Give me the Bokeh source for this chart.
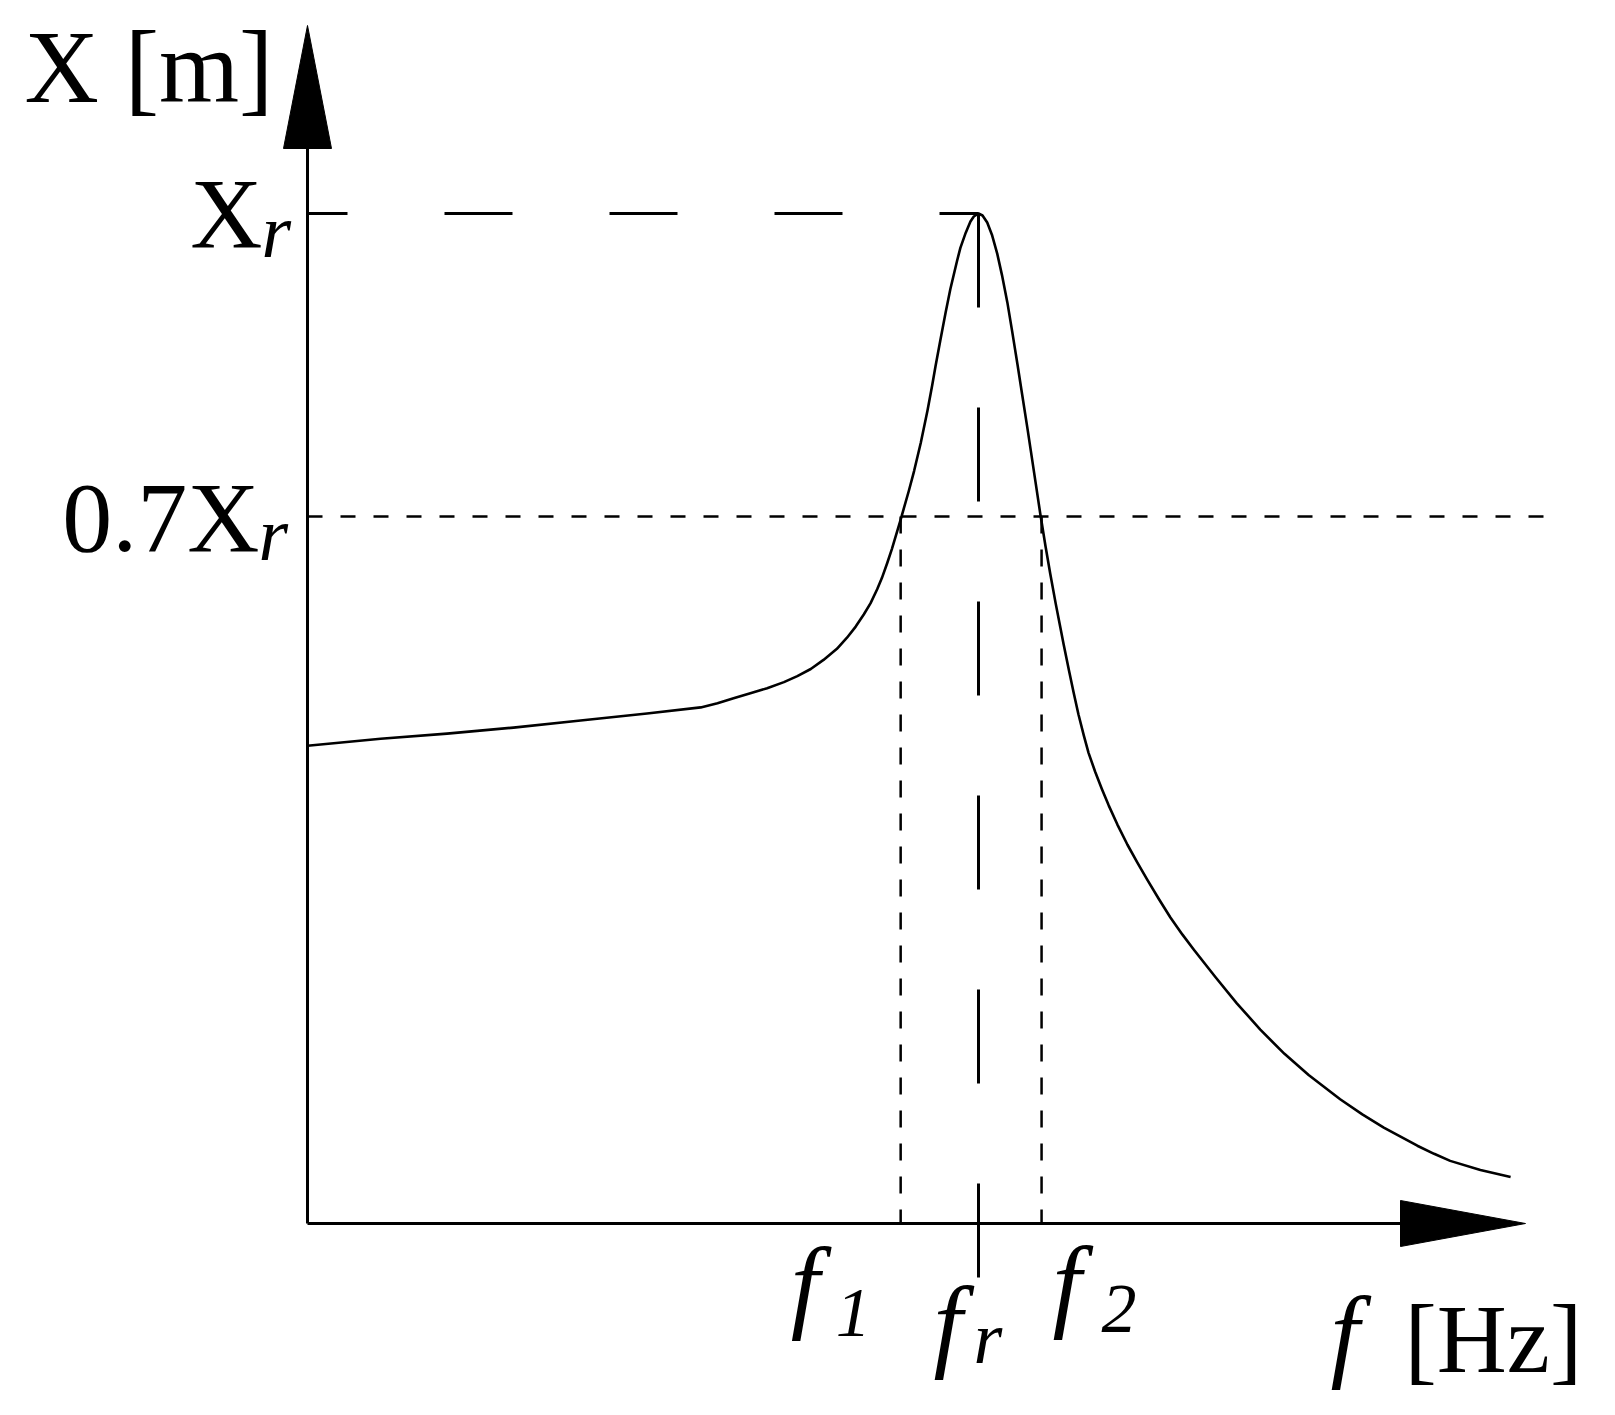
from bokeh.plotting import figure
from bokeh.models import ColumnDataSource, Range1d
from bokeh.core.properties import value
from bokeh.embed import file_html
from bokeh.resources import INLINE

# ---------------- data (normalised: f / f_r , X / X_r) ----------------
freq = [0.000, 0.109, 0.208, 0.307, 0.407, 0.506, 0.586, 0.611, 0.635, 0.660,
        0.685, 0.710, 0.730, 0.750, 0.769, 0.789, 0.804, 0.817, 0.829, 0.839,
        0.849, 0.856, 0.864, 0.871, 0.884, 0.896, 0.904, 0.914, 0.924, 0.931,
        0.936, 0.943, 0.951, 0.958, 0.968, 0.973, 0.981, 0.988, 0.993, 1.000,
        1.006, 1.013, 1.020, 1.028, 1.035, 1.043, 1.050, 1.058, 1.065, 1.073,
        1.078, 1.085, 1.092, 1.100, 1.107, 1.115, 1.122, 1.127, 1.135, 1.142,
        1.149, 1.157, 1.164, 1.174, 1.184, 1.194, 1.207, 1.222, 1.237, 1.251,
        1.269, 1.286, 1.304, 1.321, 1.353, 1.385, 1.420, 1.456, 1.492, 1.539,
        1.572, 1.604, 1.629, 1.654, 1.679, 1.703, 1.748, 1.793]
amplitude = [0.473, 0.480, 0.485, 0.491, 0.498, 0.505, 0.511, 0.515, 0.520, 0.525,
             0.530, 0.536, 0.542, 0.549, 0.558, 0.569, 0.580, 0.591, 0.603, 0.614,
             0.628, 0.639, 0.654, 0.668, 0.697, 0.725, 0.745, 0.773, 0.805, 0.830,
             0.849, 0.874, 0.902, 0.925, 0.953, 0.966, 0.981, 0.992, 0.997, 1.000,
             0.998, 0.991, 0.979, 0.960, 0.939, 0.912, 0.884, 0.851, 0.821, 0.787,
             0.765, 0.734, 0.703, 0.670, 0.643, 0.614, 0.590, 0.573, 0.547, 0.525,
             0.504, 0.483, 0.466, 0.447, 0.430, 0.414, 0.395, 0.375, 0.357, 0.341,
             0.321, 0.303, 0.286, 0.271, 0.244, 0.218, 0.192, 0.168, 0.147, 0.123,
             0.108, 0.095, 0.086, 0.077, 0.069, 0.062, 0.053, 0.046]

f_marks = [0.884, 1.000, 1.094]          # f1, fr, f2
f_names = ["1", "r", "2"]
level_peak = 1.0                          # X_r
level_half = 0.7                          # 0.7 X_r
half_line_end = 1.846                     # end of the 0.7 X_r guide line

# ---------------- layout ----------------
W, H = 1599, 1399
ORX, ORY = 307, 1223        # origin in pixels
PXX, PXY = 671.0, 1010.0    # pixels per data unit
BASE = 0.35                 # baseline correction (fraction of font size)

def dx(px):
    return px / PXX

def dy(px):
    return px / PXY

p = figure(width=W, height=H, output_backend="svg", toolbar_location=None,
           x_range=Range1d(-ORX / PXX, (W - ORX) / PXX),
           y_range=Range1d(-(H - ORY) / PXY, ORY / PXY),
           min_border=0, min_border_left=0, min_border_right=0,
           min_border_top=0, min_border_bottom=0)
p.axis.visible = False
p.grid.visible = False
p.outline_line_color = None
p.background_fill_color = "white"
p.border_fill_color = "white"

BLACK = "black"

# axes
y_top = dy(ORY - 148)
x_right = dx(1400 - ORX)
p.line([0, 0], [0, y_top], line_color=BLACK, line_width=3)
p.line([0, x_right], [0, 0], line_color=BLACK, line_width=3)
# arrow heads
p.patch([-dx(24), dx(24), 0], [y_top, y_top, y_top + dy(123)], color=BLACK, line_width=1)
p.patch([x_right, x_right, x_right + dx(125)], [dy(23), -dy(23), 0], color=BLACK, line_width=1)

# guide lines
p.line([0, f_marks[1]], [level_peak, level_peak], line_color=BLACK, line_width=3,
       line_dash="68 97", line_dash_offset=28)
p.line([0, half_line_end], [level_half, level_half], line_color=BLACK, line_width=2.5,
       line_dash="15 18")
for fm in (f_marks[0], f_marks[2]):
    p.line([fm, fm], [level_half, 0], line_color=BLACK, line_width=2.5, line_dash="17 16")
p.line([f_marks[1], f_marks[1]], [level_peak, -dy(55)], line_color=BLACK, line_width=3,
       line_dash="94 100")

# response curve
p.line(freq, amplitude, line_color=BLACK, line_width=2.6, line_join="round")

# ---------------- texts ----------------
texts, xs, ys, sizes, styles, aligns = [], [], [], [], [], []

def lab(t, x, y, ox, oy, size, style="normal", align="left", corr=True):
    # ox: pixels to the right, oy: pixels down (baseline) from the anchor
    if corr:
        oy = oy - BASE * size
    texts.append(t)
    xs.append(x + dx(ox))
    ys.append(y - dy(oy))
    sizes.append(f"{size}px")
    styles.append(style)
    aligns.append(align)

# y-axis title and level labels
lab("X [m]", 0, level_peak, -283, -110, 103)
lab("X", 0, level_peak, -45, 35, 100, align="right")
lab("r", 0, level_peak, -46, 44, 76, style="italic")
lab("0.7X", 0, level_half, -48, 36, 100, align="right")
lab("r", 0, level_half, -49, 44, 76, style="italic")

# frequency labels (f with subscript)
FS = 104
f_dx = [-110, -45, 11]
f_y = [60, 99, 59]             # anchor of "f" below the axis
s_dx = [-65, -5, 60]
s_base = [114, 140, 110]       # baseline of subscript below the axis
for fm, nm, a, t, b, sb in zip(f_marks, f_names, f_dx, f_y, s_dx, s_base):
    lab("f", fm, 0, a, t, FS, style="italic", corr=False)
    lab(nm, fm, 0, b, sb, 74 if nm == "r" else 70, style="italic")

# x-axis title
lab("f", 0, 0, 1023, 109, FS, style="italic", corr=False)
lab("[Hz]", 0, 0, 1097, 150, 97)

src = ColumnDataSource(dict(x=xs, y=ys, text=texts, size=sizes, style=styles, align=aligns))
p.text(x="x", y="y", text="text", source=src, text_font=value("Liberation Serif"),
       text_font_size="size", text_font_style="style", text_align="align",
       text_baseline="alphabetic", text_color=BLACK)

open("out.html", "w").write(file_html(p, INLINE))
